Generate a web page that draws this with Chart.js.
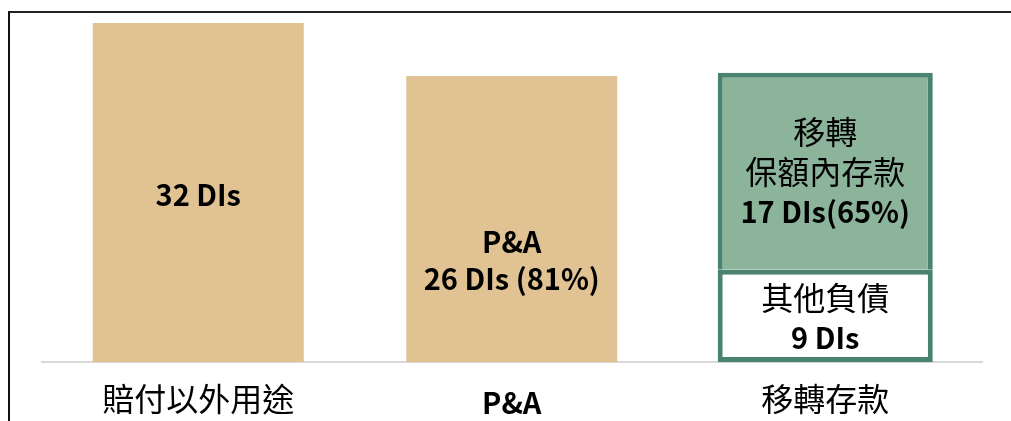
<!DOCTYPE html>
<html lang="zh-Hant">
<head>
<meta charset="UTF-8">
<title>移轉存款</title>
<script src="https://cdn.jsdelivr.net/npm/chart.js"></script>
<style>
  body { margin: 0; background: #fff; }
  #wrap { position: relative; width: 1011px; height: 421px; overflow: hidden; }
  .frame {
    position: absolute; left: 8px; top: 11px; right: -5px; bottom: -5px;
    border-top: 2px solid #222; border-left: 2px solid #111;
    pointer-events: none;
  }
</style>
</head>
<body>
<div id="wrap">
  <canvas id="c" width="1011" height="421"></canvas>
  <div class="frame"></div>
</div>
<script>
const categories = ['賠付以外用途', 'P&A', '移轉存款'];

// bar heights as drawn in the picture
const tanValues   = [32, 27, null];
const otherValues = [null, null, 8.7];   // 其他負債
const moveValues  = [null, null, 18.6];  // 移轉保額內存款

// text written inside the bars
const tanText   = [['32 DIs'], ['P&A', '26 DIs (81%)'], null];
const otherText = [null, null, ['其他負債', '9 DIs']];
const moveText  = [null, null, ['移轉', '保額內存款', '17 DIs(65%)']];

const FONT = '"Noto Sans CJK TC", "Noto Sans", sans-serif';
const isCJK = s => /[\u3400-\u9fff]/.test(s);

const inBarText = {
  id: 'inBarText',
  afterDatasetsDraw(chart) {
    const ctx = chart.ctx;
    chart.data.datasets.forEach((ds, di) => {
      const meta = chart.getDatasetMeta(di);
      meta.data.forEach((bar, i) => {
        const lines = ds.texts && ds.texts[i];
        if (!lines) return;
        const mid = (bar.y + bar.base) / 2 + (ds.textShift ? ds.textShift[i] : 0);
        const gap = ds.lineGap ? ds.lineGap[i] : 40;
        ctx.save();
        ctx.fillStyle = '#000';
        ctx.textAlign = 'center';
        ctx.textBaseline = 'middle';
        lines.forEach((t, k) => {
          ctx.font = isCJK(t) ? `32px ${FONT}` : `bold 29px ${FONT}`;
          ctx.fillText(t, bar.x, mid + (k - (lines.length - 1) / 2) * gap);
        });
        ctx.restore();
      });
    });
  }
};

new Chart(document.getElementById('c'), {
  type: 'bar',
  data: {
    labels: categories,
    datasets: [
      {
        data: tanValues,
        texts: tanText,
        textShift: [2, 41, 0],
        lineGap: [40, 37, 40],
        backgroundColor: '#e1c292',
        borderWidth: 0,
        categoryPercentage: 1,
        barPercentage: 0.673
      },
      {
        data: otherValues,
        texts: otherText,
        textShift: [0, 0, 2],
        backgroundColor: '#ffffff',
        borderColor: '#4a8470',
        borderWidth: { top: 5, left: 5, right: 5, bottom: 5 },
        borderSkipped: false,
        categoryPercentage: 1,
        barPercentage: 0.686
      },
      {
        data: moveValues,
        texts: moveText,
        textShift: [0, 0, 1],
        backgroundColor: '#8cb49b',
        borderColor: '#4a8470',
        borderWidth: { top: 5, left: 5, right: 5, bottom: 0 },
        borderSkipped: false,
        categoryPercentage: 1,
        barPercentage: 0.686
      }
    ]
  },
  options: {
    responsive: false,
    animation: false,
    layout: { padding: { left: 41.5, right: 29, top: 23, bottom: -23.4 } },
    plugins: { legend: { display: false }, tooltip: { enabled: false } },
    scales: {
      x: {
        stacked: true,
        grid: { display: false, drawTicks: false },
        border: { display: true, color: '#d9d9d9', width: 2 },
        ticks: {
          color: '#000',
          padding: 18,
          maxRotation: 0,
          font: c => c.index === 1
            ? { family: FONT, size: 29, weight: 'bold', lineHeight: 1.6 }
            : { family: FONT, size: 32 }
        }
      },
      y: {
        stacked: true,
        display: false,
        min: 0,
        max: 32
      }
    }
  },
  plugins: [inBarText]
});
</script>
</body>
</html>
